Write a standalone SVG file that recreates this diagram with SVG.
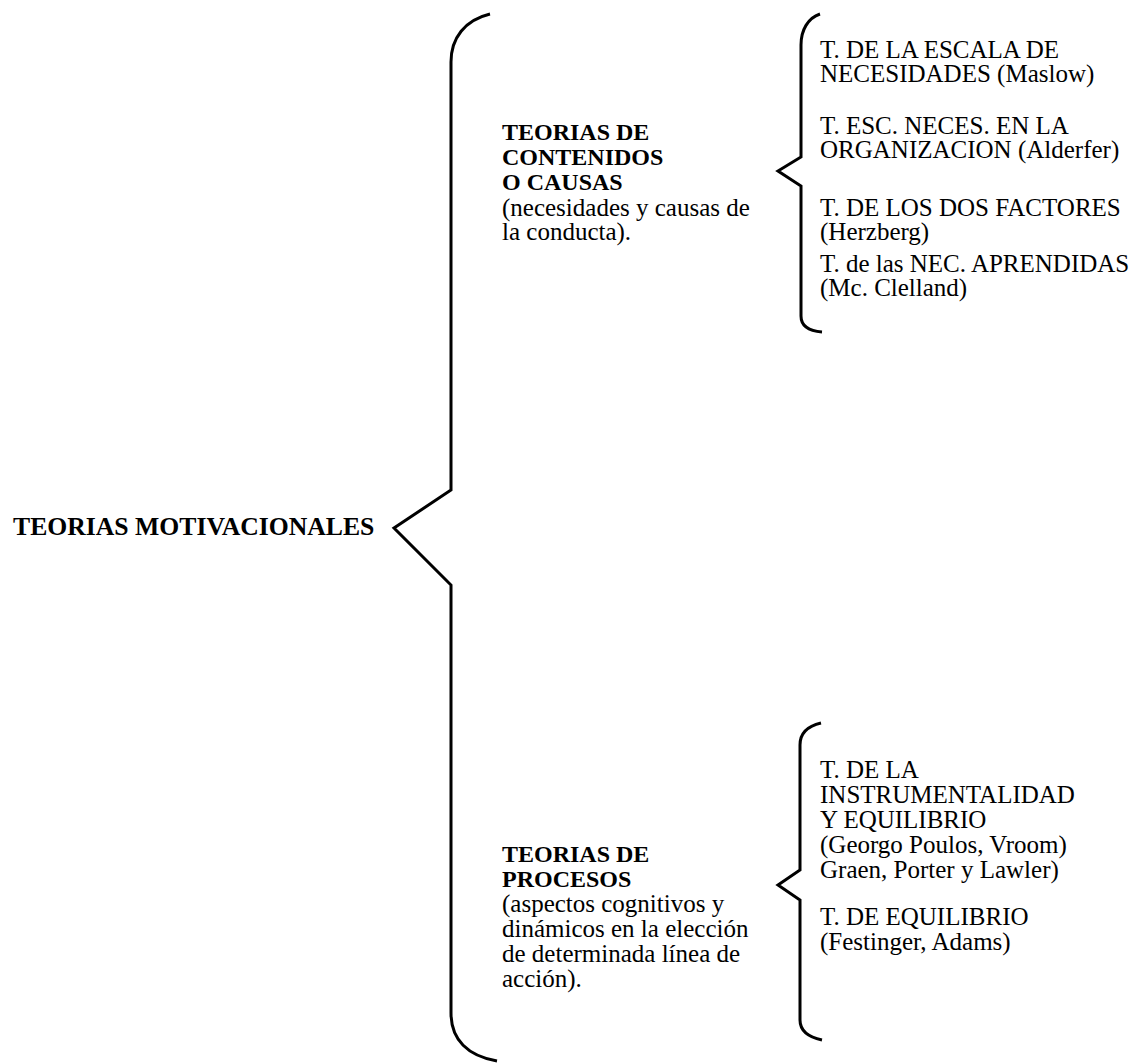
<svg xmlns="http://www.w3.org/2000/svg" width="1144" height="1063" viewBox="0 0 1144 1063">
  <style>
    text { font-family: "Liberation Serif", "Times New Roman", serif; font-size: 25px; fill: #000; }
    .b { font-weight: bold; font-size: 24px; }
    .root { font-size: 25.7px; }
    .brace { fill: none; stroke: #000; stroke-width: 3; stroke-linejoin: miter; stroke-linecap: butt; }
  </style>
  <rect width="1144" height="1063" fill="#fff"/>

  <!-- braces linking the levels -->
  <g id="connectors">
    <path class="brace" d="M 490 14 C 465 20 451 38 451 62 L 451 490 L 394 528 L 451 585 L 451 1013 C 451 1040 468 1056 497 1061"/>
    <path class="brace" d="M 820 14 C 808 18 801 30 801 45 L 801 157 L 778 171 L 801 186 L 801 316 C 801 326 809 331 822 332"/>
    <path class="brace" d="M 821 723 C 808 726 800 733 800 745 L 800 870 L 778 885 L 800 900 L 800 1020 C 800 1030 808 1037 822 1040"/>
  </g>

  <g id="teorias-motivacionales">
    <text class="b root" x="13" y="535">TEORIAS MOTIVACIONALES</text>
  </g>

  <g id="teorias-contenidos">
    <text class="b" x="502" y="140">TEORIAS DE</text>
    <text class="b" x="502" y="165">CONTENIDOS</text>
    <text class="b" x="502" y="190">O CAUSAS</text>
    <text x="502" y="216">(necesidades y causas de</text>
    <text x="502" y="240">la conducta).</text>
  </g>

  <g id="teorias-procesos">
    <text class="b" x="502" y="862">TEORIAS DE</text>
    <text class="b" x="502" y="887">PROCESOS</text>
    <text x="502" y="912">(aspectos cognitivos y</text>
    <text x="502" y="937">dinámicos en la elección</text>
    <text x="502" y="962">de determinada línea de</text>
    <text x="502" y="987">acción).</text>
  </g>

  <g id="maslow">
    <text x="820" y="58">T. DE LA ESCALA DE</text>
    <text x="820" y="82">NECESIDADES (Maslow)</text>
  </g>
  <g id="alderfer">
    <text x="820" y="134">T. ESC. NECES. EN LA</text>
    <text x="820" y="158">ORGANIZACION (Alderfer)</text>
  </g>
  <g id="herzberg">
    <text x="820" y="216">T. DE LOS DOS FACTORES</text>
    <text x="820" y="240">(Herzberg)</text>
  </g>
  <g id="mcclelland">
    <text x="820" y="272">T. de las NEC. APRENDIDAS</text>
    <text x="820" y="296">(Mc. Clelland)</text>
  </g>

  <g id="instrumentalidad">
    <text x="820" y="778">T. DE LA</text>
    <text x="820" y="803">INSTRUMENTALIDAD</text>
    <text x="820" y="828">Y EQUILIBRIO</text>
    <text x="820" y="853">(Georgo Poulos, Vroom)</text>
    <text x="820" y="878">Graen, Porter y Lawler)</text>
  </g>
  <g id="equilibrio">
    <text x="820" y="925">T. DE EQUILIBRIO</text>
    <text x="820" y="950">(Festinger, Adams)</text>
  </g>
</svg>
